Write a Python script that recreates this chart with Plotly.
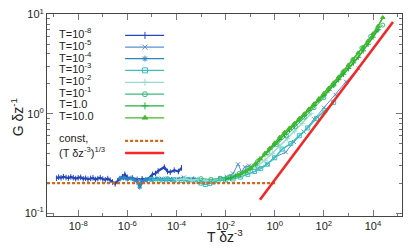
import plotly.graph_objects as go

# ---------------- data ----------------
labels = ["T=10<sup>-8</sup>", "T=10<sup>-5</sup>", "T=10<sup>-4</sup>", "T=10<sup>-3</sup>",
          "T=10<sup>-2</sup>", "T=10<sup>-1</sup>", "T=1.0", "T=10.0"]

x_t1 = [1.3e-9, 1.6e-9, 2.0e-9, 2.5e-9, 3.2e-9, 4.0e-9, 5.0e-9, 6.3e-9, 7.9e-9, 1.0e-8,
        1.26e-8, 1.6e-8, 2.0e-8, 2.5e-8, 3.2e-8, 4.0e-8, 5.0e-8, 6.3e-8, 7.9e-8, 1.0e-7,
        1.26e-7, 1.6e-7, 2.0e-7, 2.5e-7, 3.2e-7, 4.0e-7, 5.0e-7, 6.3e-7, 7.9e-7, 1.0e-6,
        1.6e-6, 2.5e-6, 4.0e-6, 6.3e-6, 1.05e-5, 1.4e-5, 1.8e-5, 3.2e-5, 4.3e-5, 5.6e-5,
        8.1e-5, 1.2e-4, 1.6e-4]
y_t1 = [0.224, 0.230, 0.226, 0.232, 0.228, 0.225, 0.231, 0.227, 0.222, 0.226,
        0.229, 0.221, 0.224, 0.219, 0.223, 0.226, 0.218, 0.222, 0.227, 0.220,
        0.216, 0.222, 0.214, 0.205, 0.197, 0.210, 0.222, 0.232, 0.245, 0.228,
        0.225, 0.218, 0.221, 0.215, 0.245, 0.250, 0.265, 0.290, 0.262, 0.258,
        0.270, 0.262, 0.285]

x_t2 = [3e-6, 6e-6, 1.2e-5, 2.5e-5, 5e-5, 1e-4, 2e-4, 4e-4, 7e-4, 1.5e-3, 3e-3, 6e-3,
        1.1e-2, 2e-2, 3.2e-2, 4.5e-2, 6e-2, 9e-2, 0.2, 0.5, 0.9, 2.8, 6, 15, 40, 100,
        300, 800, 2600]
y_t2 = [0.215, 0.212, 0.218, 0.222, 0.214, 0.219, 0.228, 0.210, 0.215, 0.205, 0.212, 0.225,
        0.232, 0.250, 0.310, 0.260, 0.290, 0.300, 0.280, 0.310, 0.360, 0.410, 0.520, 0.660,
        0.880, 1.150, 1.550, 2.100, 2.860]

x_t3 = [5e-7, 7e-7, 1e-6, 1.4e-6, 2e-6, 2.8e-6, 3.2e-6, 4e-6, 5.6e-6, 8e-6, 1.1e-5, 1.6e-5,
        2.2e-5, 3.2e-5, 4.5e-5, 6.3e-5, 9e-5, 1.3e-4, 1.8e-4, 2.5e-4, 3.5e-4, 5e-4, 7e-4, 1e-3]
y_t3 = [0.222, 0.226, 0.219, 0.224, 0.215, 0.200, 0.182, 0.205, 0.218, 0.221, 0.217, 0.222,
        0.219, 0.216, 0.221, 0.218, 0.214, 0.219, 0.222, 0.215, 0.218, 0.221, 0.216, 0.214]

x_t4 = [1e-5, 2e-5, 4e-5, 8e-5, 1.6e-4, 3e-4, 6e-4, 1e-3, 1.5e-3, 2.2e-3, 3.2e-3, 5e-3,
        1e-2, 2e-2, 4e-2, 8e-2, 0.15, 0.27, 0.5, 1.0, 2.0, 4.5, 10, 22, 50, 110, 250]
y_t4 = [0.218, 0.214, 0.220, 0.216, 0.212, 0.218, 0.210, 0.200, 0.194, 0.198, 0.205, 0.212,
        0.215, 0.220, 0.230, 0.245, 0.262, 0.280, 0.310, 0.360, 0.440, 0.500, 0.600, 0.720,
        0.900, 1.080, 1.300]

x_t5 = [1e-4, 2e-4, 4e-4, 8e-4, 1.5e-3, 3e-3, 6e-3, 1.2e-2, 2.5e-2, 5e-2, 0.1, 0.2, 0.4,
        0.8, 1.6, 3.2, 6.4, 13, 30]
y_t5 = [0.216, 0.221, 0.214, 0.218, 0.212, 0.216, 0.220, 0.224, 0.232, 0.248, 0.270, 0.300,
        0.340, 0.400, 0.470, 0.560, 0.670, 0.800, 1.000]

x_t6 = [1e-3, 2.5e-3, 6e-3, 1.5e-2, 3.5e-2, 8e-2, 0.2, 0.5, 1.2, 3, 7, 16, 40, 100, 250,
        600, 1500, 3500, 8000, 1.5e4, 2.5e4]
y_t6 = [0.222, 0.218, 0.224, 0.232, 0.250, 0.280, 0.330, 0.400, 0.490, 0.600, 0.740, 0.920,
        1.150, 1.450, 1.950, 2.600, 3.500, 4.600, 6.000, 7.000, 7.800]

x_t7 = [1e-2, 1.6e-2, 2.5e-2, 4e-2, 6.3e-2, 0.1, 0.16, 0.25, 0.4, 0.63, 1, 1.6, 2.5, 4,
        6.3, 10, 16, 25, 40, 63, 100, 160, 250, 400, 630, 1000, 1600, 2500, 4000, 6300,
        1e4, 1.6e4]
y_t7 = [0.220, 0.225, 0.235, 0.245, 0.260, 0.280, 0.310, 0.350, 0.390, 0.440, 0.490, 0.550,
        0.620, 0.690, 0.770, 0.860, 0.960, 1.080, 1.210, 1.360, 1.530, 1.720, 1.940, 2.200,
        2.500, 2.850, 3.250, 3.700, 4.300, 5.000, 5.900, 7.000]

x_t8 = [3.2e-2, 6.3e-2, 0.1, 0.16, 0.25, 0.4, 0.63, 1, 1.6, 2.5, 4, 6.3, 10, 16, 25, 40,
        63, 100, 160, 250, 400, 630, 1000, 1600, 2500, 4000, 6300, 1e4, 1.6e4, 2.5e4]
y_t8 = [0.240, 0.260, 0.280, 0.310, 0.350, 0.400, 0.450, 0.510, 0.580, 0.650, 0.720, 0.800,
        0.900, 1.000, 1.120, 1.260, 1.420, 1.600, 1.820, 2.050, 2.350, 2.700, 3.100, 3.550,
        4.100, 4.700, 5.400, 6.400, 7.600, 9.300]

const_x = [5.4e-10, 1.25]
const_y = [0.2, 0.2]
power_x = [0.25, 6.5e4]
power_y = [0.136, 8.4]

x_tickvals = [1e-8, 1e-6, 1e-4, 1e-2, 1, 1e2, 1e4]
x_ticktext = ["10<sup>-8</sup>", "10<sup>-6</sup>", "10<sup>-4</sup>", "10<sup>-2</sup>",
              "10<sup>0</sup>", "10<sup>2</sup>", "10<sup>4</sup>"]
x_minor = [1e-9, 1e-7, 1e-5, 1e-3, 1e-1, 1e1, 1e3, 1e5]
y_tickvals = [0.1, 1, 10]
y_ticktext = ["10<sup>-1</sup>", "10<sup>0</sup>", "10<sup>1</sup>"]
y_minor = [0.2, 0.3, 0.4, 0.5, 0.6, 0.7, 0.8, 0.9, 2, 3, 4, 5, 6, 7, 8, 9]

# ---------------- styles ----------------
colors = ["#2446bb", "#5a90d0", "#2a86c0", "#3cbfbf", "#98dccb", "#38bc7c", "#22b03a", "#46b82c"]
symbols = ["line-ns-open", "x-thin-open", "asterisk-open", "square-open",
           "cross-thin-open", "circle-open", "cross-thin-open", "triangle-up"]
widths = [2.2, 1.0, 2.2, 1.6, 1.6, 1.0, 1.6, 1.6]

xs = [x_t1, x_t2, x_t3, x_t4, x_t5, x_t6, x_t7, x_t8]
ys = [y_t1, y_t2, y_t3, y_t4, y_t5, y_t6, y_t7, y_t8]

fig = go.Figure()
for i in range(8):
    fig.add_trace(go.Scatter(x=xs[i], y=ys[i], mode="lines+markers",
                             line=dict(color=colors[i], width=widths[i]),
                             marker=dict(symbol=symbols[i], size=4, color=colors[i],
                                         line=dict(color=colors[i], width=1)),
                             showlegend=False))

fig.add_trace(go.Scatter(x=const_x, y=const_y, mode="lines",
                         line=dict(color="#d2661a", width=2.2, dash="3px,2px"), showlegend=False))
fig.add_trace(go.Scatter(x=power_x, y=power_y, mode="lines",
                         line=dict(color="#f02828", width=2.6), showlegend=False))

# ---------------- hand-drawn legend (overlay axes spanning the plot area) ----------------
leg_rows = [0.894, 0.836, 0.779, 0.721, 0.662, 0.603, 0.545, 0.486]
for i in range(8):
    fig.add_trace(go.Scatter(x=[0.22, 0.33], y=[leg_rows[i]] * 2, mode="lines",
                             line=dict(color=colors[i], width=1.2),
                             xaxis="x2", yaxis="y2", showlegend=False))
    fig.add_trace(go.Scatter(x=[0.276], y=[leg_rows[i]], mode="markers",
                             marker=dict(symbol=symbols[i], size=5, color=colors[i],
                                         line=dict(color=colors[i], width=1)),
                             xaxis="x2", yaxis="y2", showlegend=False))
    fig.add_annotation(x=0.028, y=leg_rows[i] + 0.01, xref="paper", yref="paper",
                       text=labels[i], showarrow=False, xanchor="left", yanchor="middle",
                       font=dict(size=11, color="#222"))
fig.add_trace(go.Scatter(x=[0.22, 0.33], y=[0.372, 0.372], mode="lines",
                         line=dict(color="#d2661a", width=2.2, dash="3px,2px"),
                         xaxis="x2", yaxis="y2", showlegend=False))
fig.add_trace(go.Scatter(x=[0.22, 0.33], y=[0.312, 0.312], mode="lines",
                         line=dict(color="#f02828", width=2.6),
                         xaxis="x2", yaxis="y2", showlegend=False))
fig.add_annotation(x=0.028, y=0.386, xref="paper", yref="paper", text="const,",
                   showarrow=False, xanchor="left", yanchor="middle", font=dict(size=11, color="#222"))
fig.add_annotation(x=0.028, y=0.318, xref="paper", yref="paper",
                   text="(T δz<sup>-3</sup>)<sup>1/3</sup>",
                   showarrow=False, xanchor="left", yanchor="middle", font=dict(size=11, color="#222"))

# axis titles
fig.add_annotation(x=0.5, y=-0.098, xref="paper", yref="paper", text="T δz<sup>-3</sup>",
                   showarrow=False, xanchor="center", yanchor="middle", font=dict(size=14, color="#222"))
fig.add_annotation(x=-0.082, y=0.488, xref="paper", yref="paper", text="G δz<sup>-1</sup>",
                   textangle=-90, showarrow=False, xanchor="center", yanchor="middle",
                   font=dict(size=14, color="#222"))

axis_common = dict(showgrid=False, zeroline=False, showline=True, linecolor="#444",
                   linewidth=1, mirror="allticks", ticks="inside", ticklen=6,
                   tickcolor="#777", tickfont=dict(size=11, color="#222"),
                   ticklabeloverflow="allow")

fig.update_layout(
    width=415, height=249,
    margin=dict(l=47, r=13, t=7, b=33),
    paper_bgcolor="white", plot_bgcolor="white",
    font=dict(family="Liberation Sans, Arial, sans-serif", color="#222"),
    hovermode=False,
    xaxis=dict(type="log", range=[-9.27, 5.18], tickmode="array", tickvals=x_tickvals,
               ticktext=x_ticktext,
               minor=dict(tickmode="array", tickvals=x_minor, ticks="inside", ticklen=3,
                          tickcolor="#777"),
               **axis_common),
    yaxis=dict(type="log", range=[-1.03, 1.004], tickmode="array", tickvals=y_tickvals,
               ticktext=y_ticktext,
               minor=dict(tickmode="array", tickvals=y_minor, ticks="inside", ticklen=3,
                          tickcolor="#777"),
               **axis_common),
    xaxis2=dict(overlaying="x", range=[0, 1], visible=False, fixedrange=True),
    yaxis2=dict(overlaying="y", range=[0, 1], visible=False, fixedrange=True),
)

fig.write_html("out.html", config={"displayModeBar": False},
               post_script="document.body.style.margin='0';document.body.style.overflow='hidden';")
